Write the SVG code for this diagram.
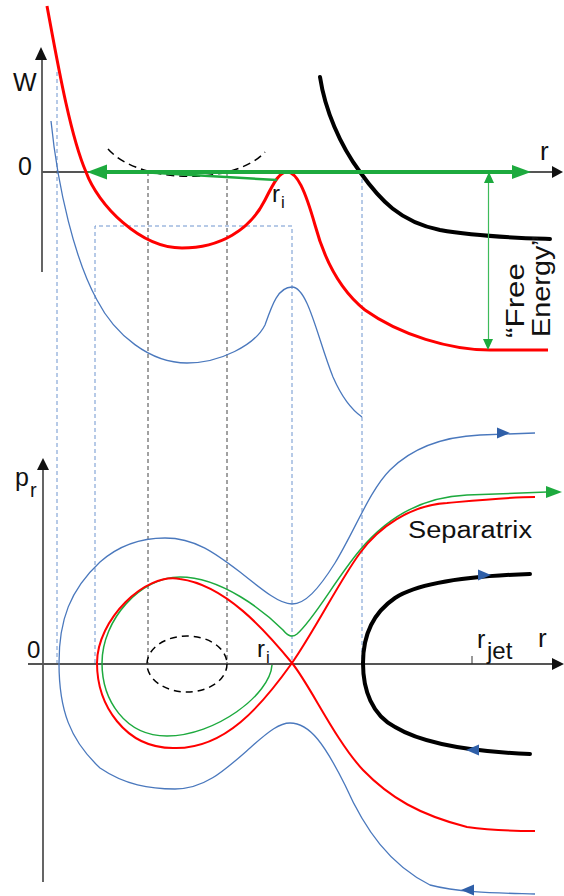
<svg xmlns="http://www.w3.org/2000/svg" width="564" height="896" viewBox="0 0 564 896">
<style>
text{font-family:"Liberation Sans",Arial,sans-serif;fill:#111}
.ax{stroke:#555;stroke-width:1.8;fill:none}
.axh{fill:#111;stroke:none}
.gd{stroke:#6f95cf;stroke-width:1;stroke-dasharray:4,3;fill:none}
.kd{stroke:#444;stroke-width:1;stroke-dasharray:4,3;fill:none}
.red{stroke:#ff0000;fill:none}
.blue{stroke:#4a78bd;stroke-width:1.3;fill:none}
.grn{stroke:#1daa3e;fill:none}
.blk{stroke:#000;stroke-width:4;fill:none;stroke-linecap:round}
.ah{fill:#2f5fa8;stroke:none}
</style>
<rect width="564" height="896" fill="#fff"/>
<g id="guides">
<path class="gd" d="M57,72 V663"/>
<path class="gd" d="M95,663 V226 H292 V663"/>
<path class="gd" d="M362,172 V663"/>
<path class="kd" d="M148,172 V663"/>
<path class="kd" d="M227,172 V663"/>
</g>
<g id="top-axes">
<path class="ax" d="M42,272 V57"/>
<polygon class="axh" points="41,47 35,60 47,60"/>
<path class="ax" d="M42,172 H553"/>
<polygon class="axh" points="563,172 552,166 552,178"/>
<text x="13" y="91" font-size="25">W</text>
<text x="18" y="175" font-size="25">0</text>
<text x="540" y="160" font-size="26">r</text>
</g>
<g id="top-curves">
<path class="blue" d="M51,121 C58,190 75,260 97,300 C115,335 150,363 187,363 C220,363 255,345 265,325 C272,305 278,287 292,287 C308,287 318,340 333,377 C343,400 352,410 362,417"/>
<path class="red" stroke-width="3" d="M47,6 C57,60 70,135 86,172 C98,205 140,248 182,248 C220,248 250,230 265,200 C275,180 280,172 287,172 C297,172 305,190 315,225 C325,262 340,290 365,310 C400,335 450,350 490,350 L548,350"/>
<path fill="none" stroke="#000" stroke-width="1.5" stroke-dasharray="8,5" d="M108,149 C140,185 235,185 265,152"/>
<path class="blk" d="M320,77 C325,110 340,145 360,172 C380,200 400,222 440,230 C480,237 520,238 550,239"/>
</g>
<g id="green-arrows">
<path class="grn" stroke-width="2.5" d="M277,180 L140,172"/>
<path class="grn" stroke-width="4" d="M102,172 H516"/>
<polygon fill="#1daa3e" points="87,172 107,164.5 107,179.5"/>
<polygon fill="#1daa3e" points="531,172 512,165 512,179"/>
<path stroke="#3dbb5a" stroke-width="1.2" fill="none" d="M488.5,180 V341"/>
<polygon fill="#1daa3e" points="489,172 484,183 494,183"/>
<polygon fill="#1daa3e" points="488,350 483,339 493,339"/>
<text transform="translate(524,338) rotate(-90)" font-size="25" textLength="75" lengthAdjust="spacingAndGlyphs">“Free</text>
<text transform="translate(550,337) rotate(-90)" font-size="25" textLength="101" lengthAdjust="spacingAndGlyphs">Energy”</text>
<text x="272" y="202" font-size="24">r</text>
<text x="281" y="208" font-size="17">i</text>
</g>
<g id="bottom-axes">
<path class="ax" d="M43,882 V468"/>
<polygon class="axh" points="43,458 37,470 49,470"/>
<path class="ax" d="M28,664 H553"/>
<polygon class="axh" points="564,664 552,658 552,670"/>
<text x="15" y="486" font-size="25">p</text>
<text x="30" y="497" font-size="20">r</text>
<text x="27" y="658" font-size="24">0</text>
<text x="538" y="647" font-size="26">r</text>
<path stroke="#333" stroke-width="1" d="M472,656 V664"/>
<text x="477" y="648" font-size="25">r</text>
<text x="487" y="659" font-size="24">jet</text>
<text x="257" y="657" font-size="24">r</text>
<text x="266" y="663" font-size="17">i</text>
</g>
<g id="phase-curves">
<ellipse cx="187" cy="664" rx="40" ry="28" fill="none" stroke="#000" stroke-width="1.5" stroke-dasharray="7,5"/>
<path class="blue" d="M59,663 C59,620 70,590 100,562 C125,540 150,538 165,538 C195,538 215,553 240,572 C265,592 280,604 292,604 C305,604 318,590 335,563 C355,530 370,490 390,470 C410,450 440,437 480,435 L535,433"/>
<polygon class="ah" points="510,433 497,427.5 497,438.5"/>
<path class="blue" d="M59,663 C59,710 70,740 100,768 C125,785 150,789 175,789 C205,789 225,770 250,748 C270,730 280,723 290,723 C310,723 325,745 345,785 C365,830 390,865 430,885 C460,893 500,893 535,894"/>
<polygon class="ah" points="461,890 474,884.5 474,895.5"/>
<path class="grn" stroke-width="1.5" d="M272,665 C270,695 215,736 167,736 C125,736 102,700 102,663 C102,620 140,577 180,577 C222,577 265,612 283,630 C288,636 292,638 297,634 C315,618 335,580 360,550 C385,520 420,497 467,495 L547,492"/>
<polygon fill="#1daa3e" points="562,492 546,486 546,498"/>
<path class="red" stroke-width="2" d="M292,663 C265,630 225,585 180,579 C145,572 97,620 97,663 C97,705 125,748 173,748 C225,750 262,705 292,663 C315,630 340,580 360,553 C378,528 410,505 447,503 C480,500 510,497 535,497"/>
<path class="red" stroke-width="2" d="M292,663 C310,685 335,740 363,770 C390,798 420,815 467,827 C495,831 520,831 535,831"/>
<path class="blk" d="M530,574 C470,576 420,582 395,598 C370,615 363,640 363,663 C363,690 372,715 395,727 C425,745 480,752 530,754"/>
<polygon class="ah" points="491,575 478,569.5 478,580.5"/>
<polygon class="ah" points="466,750 479,744.5 479,755.5"/>
<text x="408" y="538" font-size="23" textLength="124" lengthAdjust="spacingAndGlyphs">Separatrix</text>
</g>
</svg>
